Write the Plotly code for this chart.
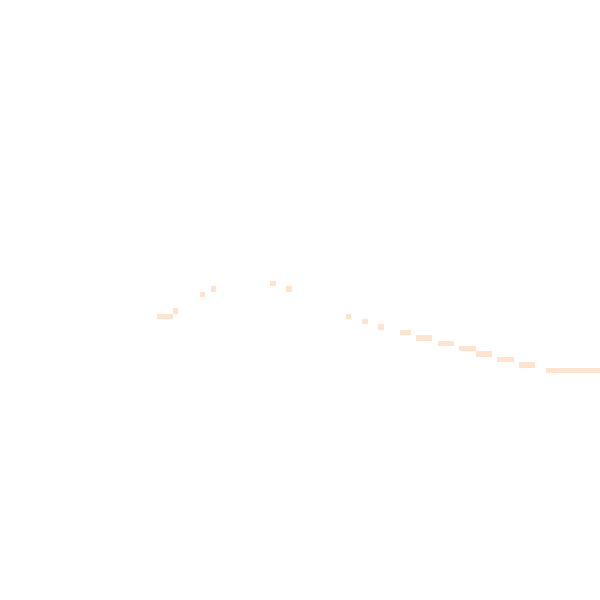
import numpy as np
import plotly.graph_objects as go

# Data: filled cells on a 111 x 111 grid (row counted from the top)
n_cols = 111
n_rows = 111
run_start_col = [29, 32, 37, 39, 50, 53, 64, 67, 70, 74, 77, 81, 85, 88, 92, 96, 101]
run_length = [3, 1, 1, 1, 1, 1, 1, 1, 1, 2, 3, 3, 3, 3, 3, 3, 10]
run_row = [58, 57, 54, 53, 52, 53, 58, 59, 60, 61, 62, 63, 64, 65, 66, 67, 68]

z = np.full((n_rows, n_cols), np.nan)
for c, n, r in zip(run_start_col, run_length, run_row):
    z[r, c:c + n] = 1

fig = go.Figure(go.Heatmap(
    z=z,
    x=list(range(n_cols)),
    y=list(range(n_rows)),
    colorscale=[[0, "#FFE3CC"], [1, "#FFE3CC"]],
    showscale=False,
    hoverongaps=False,
))

fig.update_xaxes(visible=False, range=[-0.5, n_cols - 0.5])
fig.update_yaxes(visible=False, range=[n_rows - 0.5, -0.5])
fig.update_layout(
    width=600, height=600,
    margin=dict(l=0, r=0, t=0, b=0),
    paper_bgcolor="white", plot_bgcolor="white",
)

# the page's default body margin would push the plot off by 8px
fig.write_html(
    "out.html",
    config={"displayModeBar": False},
    post_script="document.body.style.margin='0';document.body.style.overflow='hidden';",
)
